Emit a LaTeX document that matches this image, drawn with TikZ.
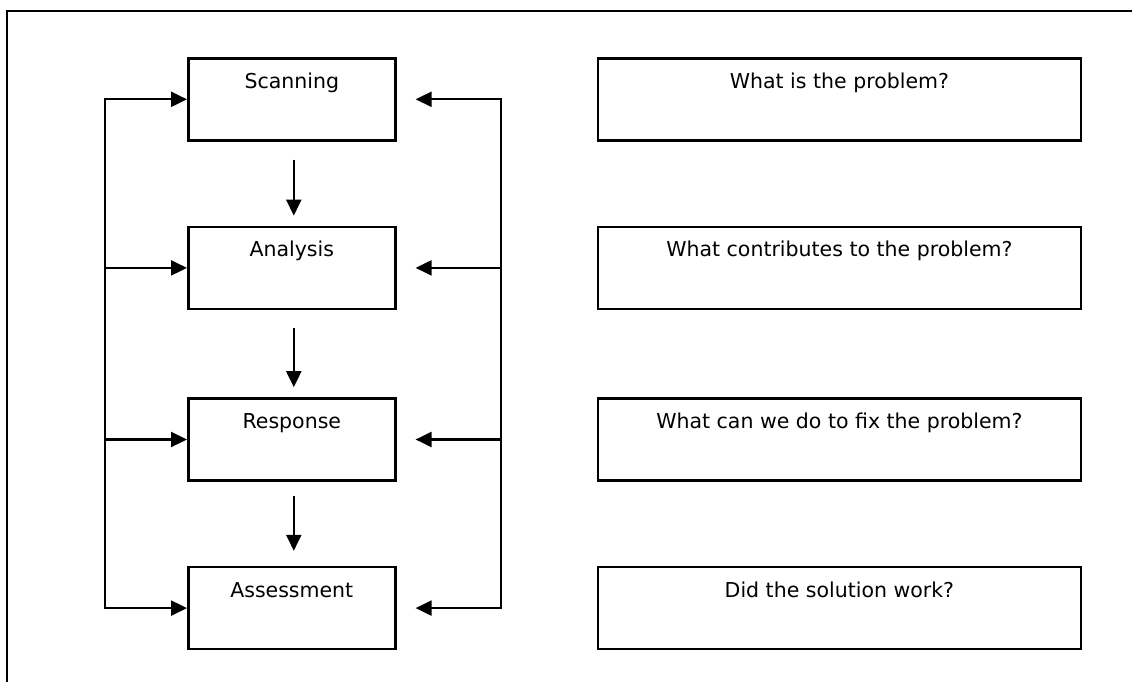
\documentclass[tikz,border=0pt]{standalone}
\usepackage{fontspec}
\setmainfont{DejaVu Sans}
\usetikzlibrary{positioning,arrows.meta}
\tikzset{
  stage/.style={draw, line width=2.6pt, inner sep=0pt, minimum width=207pt,
    text height=30pt, text depth=52pt, font=\fontsize{20.5}{24}\selectfont},
  question/.style={stage, minimum width=483pt},
  flow/.style={line width=2.2pt, -{Triangle[length=16pt,width=15pt]}},
  spine/.style={line width=2pt, line cap=rect}
}

\begin{document}
\begin{tikzpicture}[x=1pt, y=-1pt]
\useasboundingbox (0,0) rectangle (1132,682);
%%% outer frame %%%
\draw[line width=2.8pt] (7,682) -- (7,11) -- (1132,11);

%% stages
\node[stage, anchor=north west] (scan) at (187,57) {Scanning};
\node[stage, below=84pt of scan] (analysis) {Analysis};
\node[stage, below=87pt of analysis] (response) {Response};
\node[stage, below=84pt of response] (assess) {Assessment};

%% questions
\node[question, right=200pt of scan] (qscan) {What is the problem?};
\node[question, right=200pt of analysis] (qanalysis) {What contributes to the problem?};
\node[question, right=200pt of response] (qresponse) {What can we do to fix the problem?};
\node[question, right=200pt of assess] (qassess) {Did the solution work?};

%% down arrows
\draw[flow, shorten <=18pt, shorten >=10pt] ([xshift=2pt]scan.south) -- ([xshift=2pt]analysis.north);
\draw[flow, shorten <=18pt, shorten >=10pt] ([xshift=2pt]analysis.south) -- ([xshift=2pt]response.north);
\draw[flow, shorten <=14pt, shorten >=15pt] ([xshift=2pt]response.south) -- ([xshift=2pt]assess.north);

%% feedback on the left
\coordinate (lefttop) at ([xshift=-82pt]scan.west);
\coordinate (leftbot) at ([xshift=-82pt]assess.west);
\draw[spine] (lefttop) -- (leftbot);
\foreach \s in {scan,analysis,response,assess}
  \draw[flow] (lefttop |- \s.west) -- (\s.west);

%% feedback on the right
\coordinate (righttop) at ([xshift=104pt]scan.east);
\coordinate (rightbot) at ([xshift=104pt]assess.east);
\draw[spine] (righttop) -- (rightbot);
\foreach \s in {scan,analysis,response,assess}
  \draw[flow, shorten >=19pt] (righttop |- \s.east) -- (\s.east);

\end{tikzpicture}
\end{document}
